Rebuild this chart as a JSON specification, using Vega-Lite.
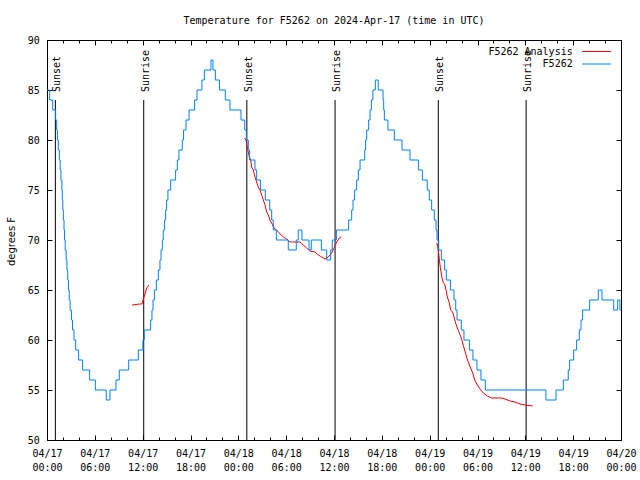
{
  "$schema": "https://vega.github.io/schema/vega-lite/v6.json",
  "width": 574,
  "height": 400,
  "autosize": {"type": "none"},
  "padding": {"left": 47, "top": 40, "right": 19, "bottom": 40},
  "background": "white",
  "title": {"text": "Temperature for F5262 on 2024-Apr-17 (time in UTC)", "font": "DejaVu Sans Mono", "fontSize": 10, "fontWeight": "normal", "anchor": "middle", "frame": "group", "baseline": "alphabetic", "offset": 1, "color": "#000"},
  "config": {
    "view": {"stroke": "#000", "strokeWidth": 1, "fill": "white"},
    "axis": {"labelFont": "DejaVu Sans Mono", "labelFontSize": 10, "labelColor": "#000", "tickColor": "#000", "tickWidth": 1, "domain": false, "grid": false}
  },
  "datasets": {
    "events": [
      {"t": "2024-04-17T01:03:00Z", "event": "Sunset"},
      {"t": "2024-04-17T12:08:00Z", "event": "Sunrise"},
      {"t": "2024-04-18T01:04:00Z", "event": "Sunset"},
      {"t": "2024-04-18T12:08:00Z", "event": "Sunrise"},
      {"t": "2024-04-19T01:05:00Z", "event": "Sunset"},
      {"t": "2024-04-19T12:06:00Z", "event": "Sunrise"}
    ],
    "blue": [
      {"t": "2024-04-17T00:00:00Z", "temp": 85, "series": "F5262"},
      {"t": "2024-04-17T00:20:00Z", "temp": 84, "series": "F5262"},
      {"t": "2024-04-17T00:43:00Z", "temp": 83, "series": "F5262"},
      {"t": "2024-04-17T01:05:00Z", "temp": 82, "series": "F5262"},
      {"t": "2024-04-17T01:13:00Z", "temp": 81, "series": "F5262"},
      {"t": "2024-04-17T01:18:00Z", "temp": 80, "series": "F5262"},
      {"t": "2024-04-17T01:25:00Z", "temp": 79, "series": "F5262"},
      {"t": "2024-04-17T01:33:00Z", "temp": 78, "series": "F5262"},
      {"t": "2024-04-17T01:39:00Z", "temp": 77, "series": "F5262"},
      {"t": "2024-04-17T01:45:00Z", "temp": 76, "series": "F5262"},
      {"t": "2024-04-17T01:52:00Z", "temp": 75, "series": "F5262"},
      {"t": "2024-04-17T01:55:00Z", "temp": 74, "series": "F5262"},
      {"t": "2024-04-17T01:59:00Z", "temp": 73, "series": "F5262"},
      {"t": "2024-04-17T02:03:00Z", "temp": 72, "series": "F5262"},
      {"t": "2024-04-17T02:08:00Z", "temp": 71, "series": "F5262"},
      {"t": "2024-04-17T02:12:00Z", "temp": 70, "series": "F5262"},
      {"t": "2024-04-17T02:17:00Z", "temp": 69, "series": "F5262"},
      {"t": "2024-04-17T02:24:00Z", "temp": 68, "series": "F5262"},
      {"t": "2024-04-17T02:30:00Z", "temp": 67, "series": "F5262"},
      {"t": "2024-04-17T02:36:00Z", "temp": 66, "series": "F5262"},
      {"t": "2024-04-17T02:41:00Z", "temp": 65, "series": "F5262"},
      {"t": "2024-04-17T02:47:00Z", "temp": 64, "series": "F5262"},
      {"t": "2024-04-17T02:54:00Z", "temp": 63, "series": "F5262"},
      {"t": "2024-04-17T03:04:00Z", "temp": 62, "series": "F5262"},
      {"t": "2024-04-17T03:12:00Z", "temp": 61, "series": "F5262"},
      {"t": "2024-04-17T03:23:00Z", "temp": 60, "series": "F5262"},
      {"t": "2024-04-17T03:36:00Z", "temp": 59, "series": "F5262"},
      {"t": "2024-04-17T03:58:00Z", "temp": 58, "series": "F5262"},
      {"t": "2024-04-17T04:28:00Z", "temp": 57, "series": "F5262"},
      {"t": "2024-04-17T05:21:00Z", "temp": 56, "series": "F5262"},
      {"t": "2024-04-17T06:04:00Z", "temp": 55, "series": "F5262"},
      {"t": "2024-04-17T07:26:00Z", "temp": 54, "series": "F5262"},
      {"t": "2024-04-17T07:54:00Z", "temp": 55, "series": "F5262"},
      {"t": "2024-04-17T08:39:00Z", "temp": 56, "series": "F5262"},
      {"t": "2024-04-17T09:04:00Z", "temp": 57, "series": "F5262"},
      {"t": "2024-04-17T10:15:00Z", "temp": 58, "series": "F5262"},
      {"t": "2024-04-17T11:27:00Z", "temp": 59, "series": "F5262"},
      {"t": "2024-04-17T12:02:00Z", "temp": 60, "series": "F5262"},
      {"t": "2024-04-17T12:12:00Z", "temp": 61, "series": "F5262"},
      {"t": "2024-04-17T13:00:00Z", "temp": 62, "series": "F5262"},
      {"t": "2024-04-17T13:10:00Z", "temp": 63, "series": "F5262"},
      {"t": "2024-04-17T13:18:00Z", "temp": 64, "series": "F5262"},
      {"t": "2024-04-17T13:28:00Z", "temp": 65, "series": "F5262"},
      {"t": "2024-04-17T13:43:00Z", "temp": 66, "series": "F5262"},
      {"t": "2024-04-17T13:58:00Z", "temp": 67, "series": "F5262"},
      {"t": "2024-04-17T14:10:00Z", "temp": 68, "series": "F5262"},
      {"t": "2024-04-17T14:18:00Z", "temp": 69, "series": "F5262"},
      {"t": "2024-04-17T14:28:00Z", "temp": 70, "series": "F5262"},
      {"t": "2024-04-17T14:35:00Z", "temp": 71, "series": "F5262"},
      {"t": "2024-04-17T14:45:00Z", "temp": 72, "series": "F5262"},
      {"t": "2024-04-17T14:53:00Z", "temp": 73, "series": "F5262"},
      {"t": "2024-04-17T15:00:00Z", "temp": 74, "series": "F5262"},
      {"t": "2024-04-17T15:10:00Z", "temp": 75, "series": "F5262"},
      {"t": "2024-04-17T15:31:00Z", "temp": 76, "series": "F5262"},
      {"t": "2024-04-17T16:08:00Z", "temp": 77, "series": "F5262"},
      {"t": "2024-04-17T16:21:00Z", "temp": 78, "series": "F5262"},
      {"t": "2024-04-17T16:33:00Z", "temp": 79, "series": "F5262"},
      {"t": "2024-04-17T16:58:00Z", "temp": 80, "series": "F5262"},
      {"t": "2024-04-17T17:08:00Z", "temp": 81, "series": "F5262"},
      {"t": "2024-04-17T17:26:00Z", "temp": 82, "series": "F5262"},
      {"t": "2024-04-17T17:49:00Z", "temp": 83, "series": "F5262"},
      {"t": "2024-04-17T18:31:00Z", "temp": 84, "series": "F5262"},
      {"t": "2024-04-17T18:49:00Z", "temp": 85, "series": "F5262"},
      {"t": "2024-04-17T19:26:00Z", "temp": 86, "series": "F5262"},
      {"t": "2024-04-17T19:44:00Z", "temp": 87, "series": "F5262"},
      {"t": "2024-04-17T20:34:00Z", "temp": 88, "series": "F5262"},
      {"t": "2024-04-17T20:49:00Z", "temp": 87, "series": "F5262"},
      {"t": "2024-04-17T21:07:00Z", "temp": 86, "series": "F5262"},
      {"t": "2024-04-17T21:38:00Z", "temp": 85, "series": "F5262"},
      {"t": "2024-04-17T22:22:00Z", "temp": 84, "series": "F5262"},
      {"t": "2024-04-17T22:57:00Z", "temp": 83, "series": "F5262"},
      {"t": "2024-04-18T00:20:00Z", "temp": 82, "series": "F5262"},
      {"t": "2024-04-18T00:48:00Z", "temp": 81, "series": "F5262"},
      {"t": "2024-04-18T01:00:00Z", "temp": 80, "series": "F5262"},
      {"t": "2024-04-18T01:15:00Z", "temp": 79, "series": "F5262"},
      {"t": "2024-04-18T01:25:00Z", "temp": 78, "series": "F5262"},
      {"t": "2024-04-18T02:05:00Z", "temp": 77, "series": "F5262"},
      {"t": "2024-04-18T02:18:00Z", "temp": 76, "series": "F5262"},
      {"t": "2024-04-18T02:46:00Z", "temp": 75, "series": "F5262"},
      {"t": "2024-04-18T03:23:00Z", "temp": 74, "series": "F5262"},
      {"t": "2024-04-18T03:56:00Z", "temp": 73, "series": "F5262"},
      {"t": "2024-04-18T04:11:00Z", "temp": 72, "series": "F5262"},
      {"t": "2024-04-18T04:23:00Z", "temp": 71, "series": "F5262"},
      {"t": "2024-04-18T04:46:00Z", "temp": 70, "series": "F5262"},
      {"t": "2024-04-18T06:16:00Z", "temp": 69, "series": "F5262"},
      {"t": "2024-04-18T07:16:00Z", "temp": 70, "series": "F5262"},
      {"t": "2024-04-18T07:31:00Z", "temp": 71, "series": "F5262"},
      {"t": "2024-04-18T07:59:00Z", "temp": 70, "series": "F5262"},
      {"t": "2024-04-18T08:52:00Z", "temp": 69, "series": "F5262"},
      {"t": "2024-04-18T09:09:00Z", "temp": 70, "series": "F5262"},
      {"t": "2024-04-18T10:25:00Z", "temp": 69, "series": "F5262"},
      {"t": "2024-04-18T11:05:00Z", "temp": 68, "series": "F5262"},
      {"t": "2024-04-18T11:35:00Z", "temp": 69, "series": "F5262"},
      {"t": "2024-04-18T11:47:00Z", "temp": 70, "series": "F5262"},
      {"t": "2024-04-18T12:18:00Z", "temp": 71, "series": "F5262"},
      {"t": "2024-04-18T13:50:00Z", "temp": 72, "series": "F5262"},
      {"t": "2024-04-18T14:13:00Z", "temp": 73, "series": "F5262"},
      {"t": "2024-04-18T14:23:00Z", "temp": 74, "series": "F5262"},
      {"t": "2024-04-18T14:35:00Z", "temp": 75, "series": "F5262"},
      {"t": "2024-04-18T14:50:00Z", "temp": 76, "series": "F5262"},
      {"t": "2024-04-18T15:03:00Z", "temp": 77, "series": "F5262"},
      {"t": "2024-04-18T15:16:00Z", "temp": 78, "series": "F5262"},
      {"t": "2024-04-18T15:51:00Z", "temp": 79, "series": "F5262"},
      {"t": "2024-04-18T15:58:00Z", "temp": 80, "series": "F5262"},
      {"t": "2024-04-18T16:06:00Z", "temp": 81, "series": "F5262"},
      {"t": "2024-04-18T16:21:00Z", "temp": 82, "series": "F5262"},
      {"t": "2024-04-18T16:31:00Z", "temp": 83, "series": "F5262"},
      {"t": "2024-04-18T16:41:00Z", "temp": 84, "series": "F5262"},
      {"t": "2024-04-18T16:53:00Z", "temp": 85, "series": "F5262"},
      {"t": "2024-04-18T17:11:00Z", "temp": 86, "series": "F5262"},
      {"t": "2024-04-18T17:33:00Z", "temp": 85, "series": "F5262"},
      {"t": "2024-04-18T18:09:00Z", "temp": 84, "series": "F5262"},
      {"t": "2024-04-18T18:14:00Z", "temp": 83, "series": "F5262"},
      {"t": "2024-04-18T18:19:00Z", "temp": 82, "series": "F5262"},
      {"t": "2024-04-18T18:46:00Z", "temp": 81, "series": "F5262"},
      {"t": "2024-04-18T19:34:00Z", "temp": 80, "series": "F5262"},
      {"t": "2024-04-18T20:32:00Z", "temp": 79, "series": "F5262"},
      {"t": "2024-04-18T21:32:00Z", "temp": 78, "series": "F5262"},
      {"t": "2024-04-18T22:35:00Z", "temp": 77, "series": "F5262"},
      {"t": "2024-04-18T23:05:00Z", "temp": 76, "series": "F5262"},
      {"t": "2024-04-18T23:42:00Z", "temp": 75, "series": "F5262"},
      {"t": "2024-04-18T23:57:00Z", "temp": 74, "series": "F5262"},
      {"t": "2024-04-19T00:15:00Z", "temp": 73, "series": "F5262"},
      {"t": "2024-04-19T00:35:00Z", "temp": 72, "series": "F5262"},
      {"t": "2024-04-19T00:48:00Z", "temp": 71, "series": "F5262"},
      {"t": "2024-04-19T00:55:00Z", "temp": 70, "series": "F5262"},
      {"t": "2024-04-19T01:08:00Z", "temp": 69, "series": "F5262"},
      {"t": "2024-04-19T01:28:00Z", "temp": 68, "series": "F5262"},
      {"t": "2024-04-19T01:53:00Z", "temp": 67, "series": "F5262"},
      {"t": "2024-04-19T02:05:00Z", "temp": 66, "series": "F5262"},
      {"t": "2024-04-19T02:36:00Z", "temp": 65, "series": "F5262"},
      {"t": "2024-04-19T03:03:00Z", "temp": 64, "series": "F5262"},
      {"t": "2024-04-19T03:16:00Z", "temp": 63, "series": "F5262"},
      {"t": "2024-04-19T03:26:00Z", "temp": 62, "series": "F5262"},
      {"t": "2024-04-19T03:58:00Z", "temp": 61, "series": "F5262"},
      {"t": "2024-04-19T04:18:00Z", "temp": 60, "series": "F5262"},
      {"t": "2024-04-19T04:59:00Z", "temp": 59, "series": "F5262"},
      {"t": "2024-04-19T05:26:00Z", "temp": 58, "series": "F5262"},
      {"t": "2024-04-19T05:56:00Z", "temp": 57, "series": "F5262"},
      {"t": "2024-04-19T06:26:00Z", "temp": 56, "series": "F5262"},
      {"t": "2024-04-19T06:59:00Z", "temp": 55, "series": "F5262"},
      {"t": "2024-04-19T14:35:00Z", "temp": 54, "series": "F5262"},
      {"t": "2024-04-19T15:51:00Z", "temp": 55, "series": "F5262"},
      {"t": "2024-04-19T16:46:00Z", "temp": 56, "series": "F5262"},
      {"t": "2024-04-19T17:23:00Z", "temp": 57, "series": "F5262"},
      {"t": "2024-04-19T17:33:00Z", "temp": 58, "series": "F5262"},
      {"t": "2024-04-19T18:04:00Z", "temp": 59, "series": "F5262"},
      {"t": "2024-04-19T18:26:00Z", "temp": 60, "series": "F5262"},
      {"t": "2024-04-19T18:46:00Z", "temp": 61, "series": "F5262"},
      {"t": "2024-04-19T18:59:00Z", "temp": 62, "series": "F5262"},
      {"t": "2024-04-19T19:11:00Z", "temp": 63, "series": "F5262"},
      {"t": "2024-04-19T20:04:00Z", "temp": 64, "series": "F5262"},
      {"t": "2024-04-19T21:09:00Z", "temp": 65, "series": "F5262"},
      {"t": "2024-04-19T21:37:00Z", "temp": 64, "series": "F5262"},
      {"t": "2024-04-19T23:05:00Z", "temp": 63, "series": "F5262"},
      {"t": "2024-04-19T23:35:00Z", "temp": 64, "series": "F5262"},
      {"t": "2024-04-19T23:52:00Z", "temp": 63, "series": "F5262"},
      {"t": "2024-04-20T00:00:00Z", "temp": 63, "series": "F5262"}
    ],
    "red": [
      {"t": "2024-04-17T10:40:00Z", "temp": 63.5, "series": "F5262 Analysis", "seg": "a"},
      {"t": "2024-04-17T11:37:00Z", "temp": 63.6, "series": "F5262 Analysis", "seg": "a"},
      {"t": "2024-04-17T11:55:00Z", "temp": 63.6, "series": "F5262 Analysis", "seg": "a"},
      {"t": "2024-04-17T12:03:00Z", "temp": 64.0, "series": "F5262 Analysis", "seg": "a"},
      {"t": "2024-04-17T12:20:00Z", "temp": 64.7, "series": "F5262 Analysis", "seg": "a"},
      {"t": "2024-04-17T12:30:00Z", "temp": 65.2, "series": "F5262 Analysis", "seg": "a"},
      {"t": "2024-04-17T12:48:00Z", "temp": 65.5, "series": "F5262 Analysis", "seg": "a"},
      {"t": "2024-04-18T00:45:00Z", "temp": 80.2, "series": "F5262 Analysis", "seg": "b"},
      {"t": "2024-04-18T00:58:00Z", "temp": 80.0, "series": "F5262 Analysis", "seg": "b"},
      {"t": "2024-04-18T01:08:00Z", "temp": 79.2, "series": "F5262 Analysis", "seg": "b"},
      {"t": "2024-04-18T01:23:00Z", "temp": 78.3, "series": "F5262 Analysis", "seg": "b"},
      {"t": "2024-04-18T01:33:00Z", "temp": 78.0, "series": "F5262 Analysis", "seg": "b"},
      {"t": "2024-04-18T01:40:00Z", "temp": 77.3, "series": "F5262 Analysis", "seg": "b"},
      {"t": "2024-04-18T01:53:00Z", "temp": 77.0, "series": "F5262 Analysis", "seg": "b"},
      {"t": "2024-04-18T02:05:00Z", "temp": 76.3, "series": "F5262 Analysis", "seg": "b"},
      {"t": "2024-04-18T02:18:00Z", "temp": 75.8, "series": "F5262 Analysis", "seg": "b"},
      {"t": "2024-04-18T02:30:00Z", "temp": 75.3, "series": "F5262 Analysis", "seg": "b"},
      {"t": "2024-04-18T02:43:00Z", "temp": 75.0, "series": "F5262 Analysis", "seg": "b"},
      {"t": "2024-04-18T02:56:00Z", "temp": 74.5, "series": "F5262 Analysis", "seg": "b"},
      {"t": "2024-04-18T03:08:00Z", "temp": 74.0, "series": "F5262 Analysis", "seg": "b"},
      {"t": "2024-04-18T03:21:00Z", "temp": 73.5, "series": "F5262 Analysis", "seg": "b"},
      {"t": "2024-04-18T03:33:00Z", "temp": 72.8, "series": "F5262 Analysis", "seg": "b"},
      {"t": "2024-04-18T03:46:00Z", "temp": 72.5, "series": "F5262 Analysis", "seg": "b"},
      {"t": "2024-04-18T03:58:00Z", "temp": 72.0, "series": "F5262 Analysis", "seg": "b"},
      {"t": "2024-04-18T04:11:00Z", "temp": 71.7, "series": "F5262 Analysis", "seg": "b"},
      {"t": "2024-04-18T04:28:00Z", "temp": 71.2, "series": "F5262 Analysis", "seg": "b"},
      {"t": "2024-04-18T04:48:00Z", "temp": 71.0, "series": "F5262 Analysis", "seg": "b"},
      {"t": "2024-04-18T05:14:00Z", "temp": 70.6, "series": "F5262 Analysis", "seg": "b"},
      {"t": "2024-04-18T05:39:00Z", "temp": 70.3, "series": "F5262 Analysis", "seg": "b"},
      {"t": "2024-04-18T06:04:00Z", "temp": 70.1, "series": "F5262 Analysis", "seg": "b"},
      {"t": "2024-04-18T06:29:00Z", "temp": 69.8, "series": "F5262 Analysis", "seg": "b"},
      {"t": "2024-04-18T06:54:00Z", "temp": 69.8, "series": "F5262 Analysis", "seg": "b"},
      {"t": "2024-04-18T07:44:00Z", "temp": 69.8, "series": "F5262 Analysis", "seg": "b"},
      {"t": "2024-04-18T08:09:00Z", "temp": 69.5, "series": "F5262 Analysis", "seg": "b"},
      {"t": "2024-04-18T08:34:00Z", "temp": 69.2, "series": "F5262 Analysis", "seg": "b"},
      {"t": "2024-04-18T08:59:00Z", "temp": 68.9, "series": "F5262 Analysis", "seg": "b"},
      {"t": "2024-04-18T09:37:00Z", "temp": 68.8, "series": "F5262 Analysis", "seg": "b"},
      {"t": "2024-04-18T10:02:00Z", "temp": 68.5, "series": "F5262 Analysis", "seg": "b"},
      {"t": "2024-04-18T10:27:00Z", "temp": 68.3, "series": "F5262 Analysis", "seg": "b"},
      {"t": "2024-04-18T10:52:00Z", "temp": 68.1, "series": "F5262 Analysis", "seg": "b"},
      {"t": "2024-04-18T11:17:00Z", "temp": 68.3, "series": "F5262 Analysis", "seg": "b"},
      {"t": "2024-04-18T11:42:00Z", "temp": 68.7, "series": "F5262 Analysis", "seg": "b"},
      {"t": "2024-04-18T12:00:00Z", "temp": 69.2, "series": "F5262 Analysis", "seg": "b"},
      {"t": "2024-04-18T12:20:00Z", "temp": 69.8, "series": "F5262 Analysis", "seg": "b"},
      {"t": "2024-04-18T12:40:00Z", "temp": 70.2, "series": "F5262 Analysis", "seg": "b"},
      {"t": "2024-04-18T12:55:00Z", "temp": 70.3, "series": "F5262 Analysis", "seg": "b"},
      {"t": "2024-04-19T00:48:00Z", "temp": 69.6, "series": "F5262 Analysis", "seg": "c"},
      {"t": "2024-04-19T00:58:00Z", "temp": 69.6, "series": "F5262 Analysis", "seg": "c"},
      {"t": "2024-04-19T01:05:00Z", "temp": 69.0, "series": "F5262 Analysis", "seg": "c"},
      {"t": "2024-04-19T01:13:00Z", "temp": 68.0, "series": "F5262 Analysis", "seg": "c"},
      {"t": "2024-04-19T01:23:00Z", "temp": 67.0, "series": "F5262 Analysis", "seg": "c"},
      {"t": "2024-04-19T01:33:00Z", "temp": 66.2, "series": "F5262 Analysis", "seg": "c"},
      {"t": "2024-04-19T01:43:00Z", "temp": 65.7, "series": "F5262 Analysis", "seg": "c"},
      {"t": "2024-04-19T01:53:00Z", "temp": 65.6, "series": "F5262 Analysis", "seg": "c"},
      {"t": "2024-04-19T02:03:00Z", "temp": 65.0, "series": "F5262 Analysis", "seg": "c"},
      {"t": "2024-04-19T02:13:00Z", "temp": 64.3, "series": "F5262 Analysis", "seg": "c"},
      {"t": "2024-04-19T02:28:00Z", "temp": 63.7, "series": "F5262 Analysis", "seg": "c"},
      {"t": "2024-04-19T02:38:00Z", "temp": 63.0, "series": "F5262 Analysis", "seg": "c"},
      {"t": "2024-04-19T02:53:00Z", "temp": 62.8, "series": "F5262 Analysis", "seg": "c"},
      {"t": "2024-04-19T03:03:00Z", "temp": 62.3, "series": "F5262 Analysis", "seg": "c"},
      {"t": "2024-04-19T03:13:00Z", "temp": 61.8, "series": "F5262 Analysis", "seg": "c"},
      {"t": "2024-04-19T03:28:00Z", "temp": 61.2, "series": "F5262 Analysis", "seg": "c"},
      {"t": "2024-04-19T03:43:00Z", "temp": 60.7, "series": "F5262 Analysis", "seg": "c"},
      {"t": "2024-04-19T03:58:00Z", "temp": 60.2, "series": "F5262 Analysis", "seg": "c"},
      {"t": "2024-04-19T04:08:00Z", "temp": 59.7, "series": "F5262 Analysis", "seg": "c"},
      {"t": "2024-04-19T04:23:00Z", "temp": 59.0, "series": "F5262 Analysis", "seg": "c"},
      {"t": "2024-04-19T04:38:00Z", "temp": 58.3, "series": "F5262 Analysis", "seg": "c"},
      {"t": "2024-04-19T04:53:00Z", "temp": 57.7, "series": "F5262 Analysis", "seg": "c"},
      {"t": "2024-04-19T05:08:00Z", "temp": 57.2, "series": "F5262 Analysis", "seg": "c"},
      {"t": "2024-04-19T05:24:00Z", "temp": 56.7, "series": "F5262 Analysis", "seg": "c"},
      {"t": "2024-04-19T05:39:00Z", "temp": 56.0, "series": "F5262 Analysis", "seg": "c"},
      {"t": "2024-04-19T05:59:00Z", "temp": 55.5, "series": "F5262 Analysis", "seg": "c"},
      {"t": "2024-04-19T06:19:00Z", "temp": 55.1, "series": "F5262 Analysis", "seg": "c"},
      {"t": "2024-04-19T06:44:00Z", "temp": 54.7, "series": "F5262 Analysis", "seg": "c"},
      {"t": "2024-04-19T07:14:00Z", "temp": 54.4, "series": "F5262 Analysis", "seg": "c"},
      {"t": "2024-04-19T07:47:00Z", "temp": 54.2, "series": "F5262 Analysis", "seg": "c"},
      {"t": "2024-04-19T09:02:00Z", "temp": 54.2, "series": "F5262 Analysis", "seg": "c"},
      {"t": "2024-04-19T09:27:00Z", "temp": 54.1, "series": "F5262 Analysis", "seg": "c"},
      {"t": "2024-04-19T10:05:00Z", "temp": 53.9, "series": "F5262 Analysis", "seg": "c"},
      {"t": "2024-04-19T10:42:00Z", "temp": 53.8, "series": "F5262 Analysis", "seg": "c"},
      {"t": "2024-04-19T11:20:00Z", "temp": 53.6, "series": "F5262 Analysis", "seg": "c"},
      {"t": "2024-04-19T11:57:00Z", "temp": 53.5, "series": "F5262 Analysis", "seg": "c"},
      {"t": "2024-04-19T12:55:00Z", "temp": 53.4, "series": "F5262 Analysis", "seg": "c"}
    ]
  },
  "resolve": {"axis": {"x": "independent", "y": "independent"}},
  "layer": [
    {
      "data": {"name": "events"},
      "mark": {"type": "rule", "color": "#000", "strokeWidth": 1},
      "encoding": {
        "x": {"field": "t", "type": "temporal",
          "scale": {"type": "utc", "nice": false, "domain": [1713312000000, 1713571200000]},
          "axis": {"orient": "top", "labels": false, "values": [1713312000000, 1713333600000, 1713355200000, 1713376800000, 1713398400000, 1713420000000, 1713441600000, 1713463200000, 1713484800000, 1713506400000, 1713528000000, 1713549600000, 1713571200000], "tickSize": -5, "title": null}},
        "y": {"datum": 84, "type": "quantitative", "axis": null},
        "y2": {"datum": 50}
      }
    },
    {
      "data": {"name": "events"},
      "mark": {"type": "text", "angle": 270, "align": "left", "baseline": "alphabetic", "dy": 5, "font": "DejaVu Sans Mono", "fontSize": 10, "color": "#000"},
      "encoding": {
        "x": {"field": "t", "type": "temporal",
          "axis": {"orient": "top", "labels": false, "values": [1713312000000, 1713319200000, 1713326400000, 1713333600000, 1713340800000, 1713348000000, 1713355200000, 1713362400000, 1713369600000, 1713376800000, 1713384000000, 1713391200000, 1713398400000, 1713405600000, 1713412800000, 1713420000000, 1713427200000, 1713434400000, 1713441600000, 1713448800000, 1713456000000, 1713463200000, 1713470400000, 1713477600000, 1713484800000, 1713492000000, 1713499200000, 1713506400000, 1713513600000, 1713520800000, 1713528000000, 1713535200000, 1713542400000, 1713549600000, 1713556800000, 1713564000000, 1713571200000], "tickSize": -3, "title": null}},
        "y": {"datum": 84.8, "type": "quantitative", "axis": null},
        "text": {"field": "event"}
      }
    },
    {
      "data": {"name": "red"},
      "mark": {"type": "line", "strokeWidth": 1},
      "encoding": {
        "x": {"field": "t", "type": "temporal",
          "axis": {"orient": "bottom", "labels": false, "values": [1713312000000, 1713319200000, 1713326400000, 1713333600000, 1713340800000, 1713348000000, 1713355200000, 1713362400000, 1713369600000, 1713376800000, 1713384000000, 1713391200000, 1713398400000, 1713405600000, 1713412800000, 1713420000000, 1713427200000, 1713434400000, 1713441600000, 1713448800000, 1713456000000, 1713463200000, 1713470400000, 1713477600000, 1713484800000, 1713492000000, 1713499200000, 1713506400000, 1713513600000, 1713520800000, 1713528000000, 1713535200000, 1713542400000, 1713549600000, 1713556800000, 1713564000000, 1713571200000], "tickSize": -3, "title": null}},
        "y": {"field": "temp", "type": "quantitative",
          "scale": {"domain": [50, 90], "nice": false, "zero": false},
          "axis": {"orient": "right", "labels": false, "values": [50, 55, 60, 65, 70, 75, 80, 85, 90], "tickSize": -5, "title": null}},
        "color": {"field": "series", "type": "nominal",
          "scale": {"domain": ["F5262 Analysis", "F5262"], "range": ["#ff0000", "#0080ff"]},
          "legend": {"orient": "none", "legendX": 543, "legendY": 5, "title": null, "symbolType": "M-2.4,0H2.4", "symbolSize": 144, "symbolStrokeWidth": 1, "labelAlign": "right", "labelOffset": -30.3, "labelFont": "DejaVu Sans Mono", "labelFontSize": 10, "labelColor": "#000", "rowPadding": 0.5, "padding": 0, "symbolOffset": 0}},
        "detail": {"field": "seg"}
      }
    },
    {
      "data": {"name": "blue"},
      "mark": {"type": "line", "interpolate": "step-after", "strokeWidth": 1},
      "encoding": {
        "x": {"field": "t", "type": "temporal",
          "axis": {"orient": "bottom", "values": [1713312000000, 1713333600000, 1713355200000, 1713376800000, 1713398400000, 1713420000000, 1713441600000, 1713463200000, 1713484800000, 1713506400000, 1713528000000, 1713549600000, 1713571200000], "tickSize": -5, "labelPadding": 13, "labelBaseline": "top", "labelLineHeight": 14, "labelFlush": false, "labelOverlap": false, "labelBound": false,
            "labelExpr": "[utcFormat(datum.value, '%m/%d'), utcFormat(datum.value, '%H:%M')]", "title": null}},
        "y": {"field": "temp", "type": "quantitative",
          "axis": {"orient": "left", "values": [50, 55, 60, 65, 70, 75, 80, 85, 90], "tickSize": -5, "labelPadding": 12.7, "labelFlush": false,
            "title": "degrees F", "titleX": -33, "titleY": 201, "titleAngle": 270, "titleAlign": "center", "titleBaseline": "alphabetic", "titleFont": "DejaVu Sans", "titleFontSize": 10, "titleFontWeight": "normal", "titleColor": "#000"}},
        "color": {"field": "series", "type": "nominal",
          "legend": {"orient": "none", "legendX": 543, "legendY": 5, "title": null, "symbolType": "M-2.4,0H2.4", "symbolSize": 144, "symbolStrokeWidth": 1, "labelAlign": "right", "labelOffset": -30.3, "labelFont": "DejaVu Sans Mono", "labelFontSize": 10, "labelColor": "#000", "rowPadding": 0.5, "padding": 0, "symbolOffset": 0}}
      }
    }
  ]
}
